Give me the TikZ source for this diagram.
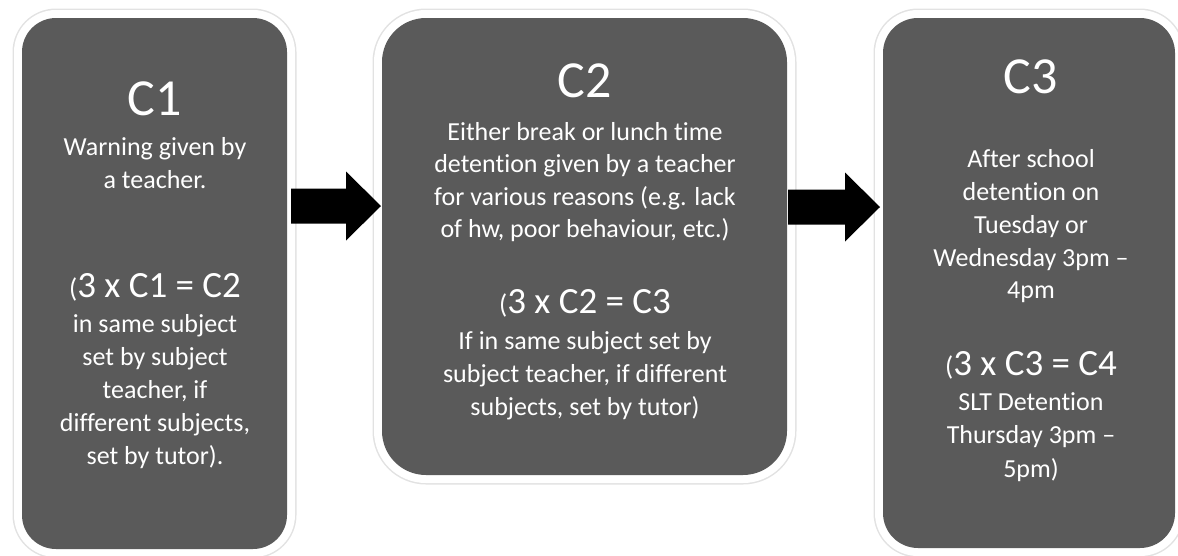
\documentclass[tikz,border=0pt]{standalone}
\usepackage{fontspec}
\setmainfont{Carlito}[Ligatures=NoCommon]
\usetikzlibrary{calc}
\definecolor{boxgrey}{RGB}{90,90,90}
\definecolor{edgegrey}{RGB}{226,226,226}
\tikzset{
  box/.style={rectangle, fill=boxgrey, inner sep=0pt, outer sep=0pt,
    preaction={draw=edgegrey, line width=19pt},
    preaction={draw=white, line width=16pt}},
  ttl/.style={text=white, anchor=base, inner sep=0pt, font=\fontsize{52}{60}\selectfont},
  eqn/.style={text=white, anchor=base, inner sep=0pt, font=\fontsize{37}{44}\selectfont},
  body/.style={text=white, anchor=base, inner sep=0pt, font=\fontsize{26}{33}\selectfont},
  blockarrow/.style={fill=black}
}
\newcommand{\smallparen}{{\fontsize{27}{27}\selectfont(}}
\newcommand{\drawblockarrow}[2]{%
  \fill[blockarrow] ($(#1)+(0,-17.5)$) -- ($(#2)+(-35,-17.5)$) -- ($(#2)+(-35,-34.5)$)
    -- (#2) -- ($(#2)+(-35,34.5)$) -- ($(#2)+(-35,17.5)$) -- ($(#1)+(0,17.5)$) -- cycle;}
\begin{document}
\begin{tikzpicture}[x=1pt,y=-1pt]
\useasboundingbox (0,0) rectangle (1178,555);
% boxes
\node[box, minimum width=265, minimum height=531, rounded corners=34] (b1) at (154.5,283.5) {};
\node[box, minimum width=405, minimum height=457, rounded corners=44] (b2) at (584.5,246.5) {};
\node[box, minimum width=292, minimum height=530, rounded corners=35] (b3) at (1029,283) {};
% arrows
\coordinate (a1s) at (291,206);
\coordinate (a1e) at (381,206);
\coordinate (a2s) at (788,207);
\coordinate (a2e) at (880,207);
\drawblockarrow{a1s}{a1e}
\drawblockarrow{a2s}{a2e}
% box 1 text
\node[ttl] (t1) at (155,115) {C1};
\node[body] (t1a) at (155,155) {Warning given by};
\node[body] (t1b) at (155,188) {a teacher.};
\node[eqn] (t1c) at (155,297) {\smallparen3 x C1 = C2};
\node[body] (t1d) at (155,332) {in same subject};
\node[body] (t1e) at (155,365) {set by subject};
\node[body] (t1f) at (155,398) {teacher, if};
\node[body] (t1g) at (155,431) {different subjects,};
\node[body] (t1h) at (155,464) {set by tutor).};
% box 2 text
\node[ttl] (t2) at (585,97) {C2};
\node[body] (t2a) at (585,140) {Either break or lunch time};
\node[body] (t2b) at (585,172) {detention given by a teacher};
\node[body] (t2c) at (585,205) {for various reasons (e.g. lack};
\node[body] (t2d) at (585,237) {of hw, poor behaviour, etc.)};
\node[eqn] (t2e) at (585,313) {\smallparen3 x C2 = C3};
\node[body] (t2f) at (585,349) {If in same subject set by};
\node[body] (t2g) at (585,382) {subject teacher, if different};
\node[body] (t2h) at (585,415) {subjects, set by tutor)};
% box 3 text
\node[ttl] (t3) at (1031,93) {C3};
\node[body] (t3a) at (1031,167) {After school};
\node[body] (t3b) at (1031,200) {detention on};
\node[body] (t3c) at (1031,233) {Tuesday or};
\node[body] (t3d) at (1031,266) {Wednesday 3pm –};
\node[body] (t3e) at (1031,298) {4pm};
\node[eqn] (t3f) at (1031,375) {\smallparen3 x C3 = C4};
\node[body] (t3g) at (1031,410) {SLT Detention};
\node[body] (t3h) at (1031,443) {Thursday 3pm –};
\node[body] (t3i) at (1031,477) {5pm)};
\end{tikzpicture}
\end{document}
